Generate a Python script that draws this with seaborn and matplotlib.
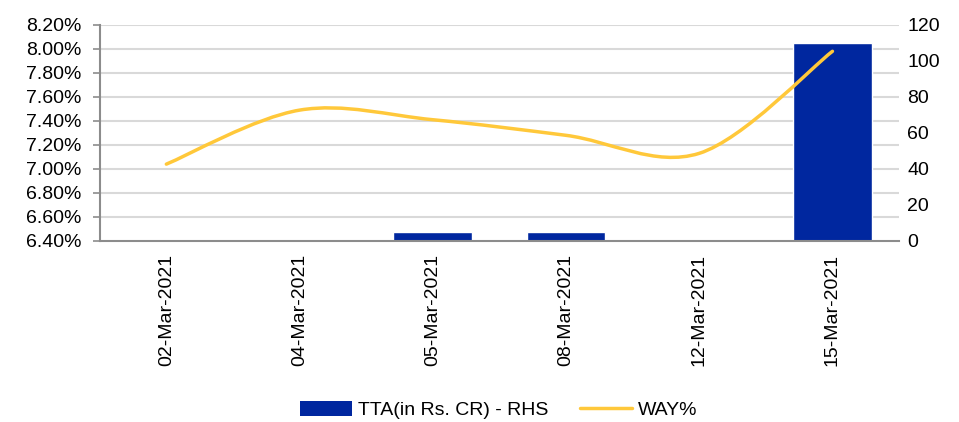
"""TTA bars with smoothed WAY% line on twin axes."""

import matplotlib

matplotlib.use("Agg")

import matplotlib.pyplot as plt
import numpy as np
import pandas as pd
import seaborn as sns
from matplotlib.lines import Line2D
from matplotlib.patches import Patch, PathPatch
from matplotlib.path import Path
from matplotlib.ticker import FuncFormatter, MultipleLocator

dates = ["02-Mar-2021", "04-Mar-2021", "05-Mar-2021", "08-Mar-2021", "12-Mar-2021", "15-Mar-2021"]
tta = [0, 0, 5, 5, 0, 110]
way_pct = [7.04, 7.49, 7.41, 7.28, 7.13, 7.98]

BAR_COLOR = "#00279F"
LINE_COLOR = "#FFC83A"
AXIS_COLOR = "#8C8C8C"
GRID_COLOR = "#D9D9D9"
FS = 14


def smooth_path(xs, ys):
    """Excel-style smoothed line through the points as cubic Bezier segments."""
    pts = np.column_stack([xs, ys]).astype(float)
    verts = [pts[0]]
    codes = [Path.MOVETO]
    n = len(pts)
    for i in range(n - 1):
        p0 = pts[max(i - 1, 0)]
        p1 = pts[i]
        p2 = pts[i + 1]
        p3 = pts[min(i + 2, n - 1)]
        c1 = p1 + (p2 - p0) / 6.0
        c2 = p2 - (p3 - p1) / 6.0
        verts += [c1, c2, p2]
        codes += [Path.CURVE4] * 3
    return Path(verts, codes)


sns.set_style("white")
plt.rcParams["font.family"] = ["Liberation Sans", "DejaVu Sans"]
plt.rcParams["font.size"] = FS
plt.rcParams["text.color"] = "black"
plt.rcParams["xtick.labelcolor"] = "black"
plt.rcParams["ytick.labelcolor"] = "black"

df = pd.DataFrame({"date": dates, "tta": tta, "way": way_pct})

fig, ax_bar = plt.subplots(figsize=(9.59, 4.22), dpi=100)
fig.subplots_adjust(left=0.104, right=0.9375, bottom=0.429, top=0.941)
ax_line = ax_bar.twinx()

# bars sit underneath, line on top
sns.barplot(data=df, x="date", y="tta", color=BAR_COLOR, width=0.59,
            saturation=1, ax=ax_bar)
ax_bar.set_ylim(0, 120)
ax_bar.yaxis.set_major_locator(MultipleLocator(20))
ax_bar.yaxis.tick_right()
ax_bar.tick_params(axis="y", length=0, pad=6, labelsize=FS)

# gridlines follow the left (percent) scale but sit behind the bars
for v in np.arange(6.6, 8.21, 0.2):
    ax_bar.axhline((v - 6.4) / 1.8 * 120, color=GRID_COLOR, lw=1.5, zorder=0)
ax_bar.set_axisbelow(True)

ax_line.add_patch(PathPatch(smooth_path(np.arange(len(dates)), way_pct),
                            facecolor="none", edgecolor=LINE_COLOR, lw=2.5,
                            capstyle="round", joinstyle="round"))
ax_line.set_ylim(6.4, 8.2)
ax_line.yaxis.set_major_locator(MultipleLocator(0.2))
ax_line.yaxis.set_major_formatter(FuncFormatter(lambda v, _: f"{v:.2f}%"))
ax_line.yaxis.tick_left()
ax_line.tick_params(axis="y", length=5, width=1.2, color=AXIS_COLOR, pad=8, labelsize=FS)
ax_line.grid(False)
ax_bar.set_zorder(0)
ax_line.set_zorder(1)
ax_line.patch.set_visible(False)

ax_bar.set_xlim(-0.5, len(dates) - 0.5)
ax_bar.set_xlabel("")
ax_bar.set_ylabel("")
ax_line.set_ylabel("")
ax_bar.tick_params(axis="x", which="major", length=0, rotation=90, pad=9, labelsize=FS)
ax_bar.set_xticks(np.arange(0.5, len(dates) - 1, 1.0), minor=True)
ax_bar.tick_params(axis="x", which="minor", length=5, width=1.2, color=AXIS_COLOR)

for ax in (ax_bar, ax_line):
    for side in ("top", "right", "left", "bottom"):
        ax.spines[side].set_visible(False)
ax_line.spines["left"].set_visible(True)
ax_line.spines["left"].set_color(AXIS_COLOR)
ax_line.spines["left"].set_linewidth(1.5)
ax_bar.spines["bottom"].set_visible(True)
ax_bar.spines["bottom"].set_color(AXIS_COLOR)
ax_bar.spines["bottom"].set_linewidth(1.5)

handles = [
    Patch(facecolor=BAR_COLOR, edgecolor="none", label="TTA(in Rs. CR) - RHS"),
    Line2D([], [], color=LINE_COLOR, lw=2.5, label="WAY%"),
]
fig.legend(handles=handles, loc="lower center", bbox_to_anchor=(0.52, -0.035), ncol=2,
           frameon=False, fontsize=FS, handlelength=2.7, handleheight=0.8,
           handletextpad=0.3, columnspacing=1.6)

fig.savefig("out.png", dpi=100)
plt.close(fig)
